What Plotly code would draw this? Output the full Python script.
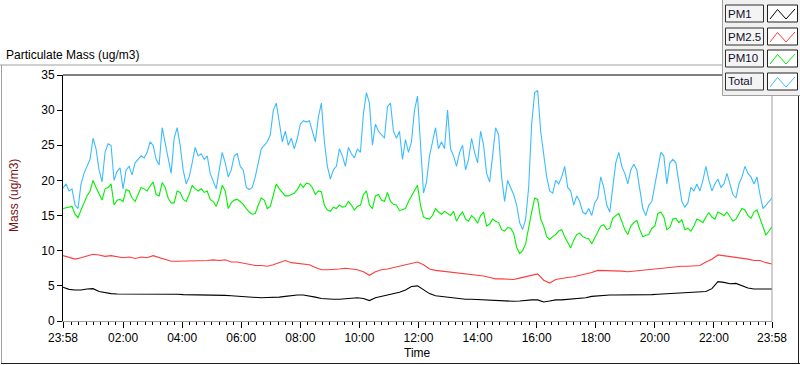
import numpy as np
import pandas as pd
import plotly.graph_objects as go

# ---------------- data ----------------
START = "2000-01-01 23:58"
END = "2000-01-02 23:58"

TOTAL = [
    18.9, 19.5, 18.5, 18.8, 16.5, 16.0, 19.5, 21.0, 22.0, 23.0,
    26.0, 24.5, 21.5, 19.8, 24.0, 25.2, 25.0, 20.0, 21.3, 21.8,
    18.8, 21.5, 22.0, 20.8, 22.5, 23.0, 23.5, 23.2, 24.0, 25.5,
    25.0, 23.0, 22.2, 27.5, 25.5, 23.0, 21.0, 26.0, 27.5, 25.0,
    21.5, 19.5, 20.5, 22.5, 24.7, 23.5, 23.8, 23.0, 23.5, 21.0,
    20.0, 18.8, 21.5, 24.0, 22.5, 20.5, 21.5, 23.5, 23.8, 22.0,
    21.5, 19.0, 18.7, 19.0, 20.5, 22.5, 24.5, 25.0, 25.5, 26.5,
    30.0, 31.0, 28.0, 25.5, 27.0, 25.0, 26.0, 24.5, 26.0, 28.0,
    28.5, 28.3,
    28.5, 27.0, 25.5, 29.0, 31.0, 25.5, 22.0, 20.2, 21.5, 22.0,
    24.5, 23.5, 22.0, 24.7, 23.8, 23.2, 24.5, 24.0, 29.5, 32.5,
    31.0, 25.0, 28.0, 27.0, 26.5, 26.0, 30.5, 31.0, 27.0, 26.0,
    27.0, 23.0, 25.8, 24.0, 25.5, 30.0, 32.0, 25.0, 18.2, 19.8,
    23.5, 25.5, 27.5, 24.5, 25.5, 24.5, 30.0, 24.5, 23.5, 22.0,
    24.0, 25.0, 21.5, 23.0, 26.0, 24.0, 22.5, 27.0, 25.0, 21.0,
    19.8, 23.5, 27.5, 26.5, 20.5, 17.0, 20.0, 19.0, 18.0, 16.5,
    14.0, 13.0, 14.5, 19.0, 28.0, 32.5, 32.8, 27.0,
    24.0, 20.5, 18.5, 18.2, 20.0, 19.5, 20.5, 22.0, 19.0, 18.5,
    16.5, 17.8, 17.0, 15.5, 15.2, 16.0, 15.0, 16.8, 17.5, 20.5,
    19.0, 16.5, 15.5, 19.0, 22.5, 24.0, 22.0, 21.0, 19.5, 21.5,
    22.3, 21.5, 18.5, 16.0, 15.0, 16.5, 17.0, 19.5, 21.5, 24.0,
    23.5, 19.5, 22.5, 23.0, 22.5, 20.0, 17.0, 16.2, 16.8, 19.0,
    18.5, 19.5, 18.5, 20.0, 22.0, 20.0, 18.5, 19.5, 20.2, 19.0,
    19.5, 21.0, 19.5, 18.0, 17.5, 19.5, 20.5, 22.0, 21.0, 20.5,
    19.5, 20.5, 18.0, 16.0, 16.5, 17.0, 17.5,
]

PM10 = [
    16.0, 16.1, 16.2, 16.3, 15.2, 14.7, 15.8, 16.8, 17.8, 18.5,
    20.0, 19.0, 18.0, 17.2, 18.8, 19.0, 19.5, 16.5, 17.2, 17.3,
    17.0, 18.7, 18.5, 17.5, 17.0, 18.0, 19.0, 18.8, 18.5, 19.2,
    19.8, 18.0, 17.8, 19.7, 19.0, 17.5, 16.8, 16.8, 18.5, 18.3,
    17.3, 17.0, 18.0, 19.3, 18.8, 18.5, 18.8, 18.3, 18.5, 17.3,
    17.0, 16.3, 17.5, 19.3, 18.5, 16.0, 16.8, 17.2, 17.3, 17.0,
    16.6, 16.0, 15.5, 15.2, 15.3, 16.5, 17.5, 17.2, 16.0, 16.3,
    18.0, 19.5, 18.8, 18.3, 17.8, 17.8, 18.0, 18.2, 18.7, 19.5,
    19.0, 19.6, 19.5, 19.0, 18.0, 18.5, 18.4, 16.5, 15.8, 15.6,
    16.2, 16.0, 16.5, 16.2, 16.3, 17.0, 16.5, 15.8, 16.3, 16.5,
    18.0, 18.5, 16.5, 16.0, 17.8, 18.0, 17.2, 17.0, 18.3, 17.0,
    16.6, 16.5, 15.7, 15.9, 16.0, 17.0, 17.8, 18.5, 19.3, 16.5,
    14.8, 14.6, 14.5, 15.0, 16.0, 15.5, 15.2, 15.6, 15.3, 15.0,
    15.6, 14.2, 15.0, 15.5, 14.5, 14.2, 15.0, 14.6, 13.9, 15.0,
    15.5, 13.5, 13.8, 14.5, 14.2, 14.0, 13.0, 12.8, 13.3, 13.2,
    12.5, 10.5, 9.6, 10.0, 11.0, 13.5, 15.5, 17.5, 17.3, 14.5,
    13.5, 12.0, 11.6, 12.0, 12.3, 12.8, 13.0, 12.0, 11.3, 10.4,
    11.5, 12.3, 12.5, 12.0, 11.8, 11.7, 11.0, 11.8, 12.5, 13.5,
    13.7, 13.0, 13.2, 14.6, 15.0, 15.3, 14.2, 13.0, 12.3, 13.5,
    14.0, 14.3, 13.0, 12.0, 12.2, 12.3, 13.2, 13.5, 15.3, 15.5,
    14.8, 13.0, 13.3, 14.5, 14.6, 14.0, 14.4, 13.0, 13.2, 12.8,
    13.5, 14.5, 14.3, 14.0, 14.8, 15.4, 14.8, 14.5, 15.5, 15.3,
    15.0, 15.5, 14.8, 14.2, 14.5, 15.3, 16.0, 15.8, 15.0, 14.6,
    15.5, 15.8, 14.5, 13.2, 12.2, 12.8, 13.4,
]

PM25 = [
    9.3, 9.1, 8.8, 9.0, 9.3, 9.5, 9.4, 9.2, 9.3, 9.2,
    9.0, 9.1, 8.9, 9.1, 9.0, 9.3, 9.0, 8.8, 8.5, 8.5,
    8.5, 8.6, 8.6, 8.6, 8.6, 8.7, 8.6, 8.7, 8.4, 8.4,
    8.2, 8.0, 7.9, 7.9, 7.8, 8.0, 8.3, 8.6, 8.3, 8.2,
    8.1, 8.0, 7.6, 7.3, 7.3, 7.3, 7.4, 7.5, 7.4, 7.3,
    7.0, 6.5, 7.0, 7.3, 7.4, 7.6, 7.9, 8.0, 8.2, 8.4,
    8.0, 7.4, 7.2, 7.1, 7.1, 6.9, 6.8, 6.8, 6.7, 6.6,
    6.4, 6.2, 6.0, 6.0, 5.9, 5.9, 6.1, 6.3, 6.4, 6.7,
    5.8, 5.4, 5.9, 6.1, 6.2, 6.3, 6.5, 6.6, 6.9, 7.2,
    7.2, 7.1, 7.1, 7.1, 7.0, 7.1, 7.1, 7.3, 7.3, 7.5,
    7.5, 7.6, 7.7, 7.8, 7.8, 7.9, 7.9, 8.4, 8.8, 9.4,
    9.3, 9.1, 9.0, 8.9, 8.8, 8.6, 8.6, 8.3, 8.1,
]

PM1 = [
    4.8, 4.5, 4.4, 4.4, 4.55, 4.6, 4.2, 4.0, 3.9, 3.85,
    3.85, 3.85, 3.85, 3.8, 3.85, 3.9, 3.85, 3.8, 3.8, 3.8,
    3.75, 3.75, 3.7, 3.7, 3.65, 3.65, 3.7, 3.65, 3.6, 3.55,
    3.4, 3.35, 3.35, 3.3, 3.35, 3.35, 3.4, 3.5, 3.65, 3.7,
    3.7, 3.6, 3.4, 3.2, 3.1, 3.1, 3.1, 3.2, 3.2, 3.3,
    3.2, 2.9, 3.3, 3.5, 3.7, 3.8, 4.1, 4.4, 4.9, 5.0,
    4.4, 3.9, 3.6, 3.5, 3.4, 3.2, 3.15, 3.1, 3.1, 3.05,
    3.0, 2.95, 2.85, 2.85, 2.8, 2.8, 2.85, 2.95, 3.0, 3.0,
    2.7, 2.85, 3.0, 3.0, 3.05, 3.1, 3.15, 3.3, 3.5, 3.6,
    3.65, 3.7, 3.7, 3.7, 3.65, 3.7, 3.7, 3.75, 3.75, 3.8,
    3.85, 3.9, 3.9, 3.9, 3.95, 4.0, 4.05, 4.2, 4.6, 5.6,
    5.5, 5.3, 5.35, 5.0, 4.7, 4.55, 4.55, 4.55, 4.55,
]

SERIES_NAMES = ["PM1", "PM2.5", "PM10", "Total"]
SERIES_COLORS = ["#000000", "#ff3c3c", "#00f000", "#3cbcff"]

TICK_LABELS = ["23:58", "02:00", "04:00", "06:00", "08:00", "10:00", "12:00",
               "14:00", "16:00", "18:00", "20:00", "22:00", "23:58"]
Y_TICKS = [0, 5, 10, 15, 20, 25, 30, 35]

CHART_TITLE = "Particulate Mass (ug/m3)"
Y_TITLE = "Mass (ug/m3)"
X_TITLE = "Time"

# ---------------- build ----------------
t0 = pd.Timestamp(START)
t1 = pd.Timestamp(END)


def times_for(vals):
    n = len(vals)
    return [t0 + (t1 - t0) * i / (n - 1) for i in range(n)]


tickvals = [t0] + [pd.Timestamp("2000-01-02 " + s) for s in TICK_LABELS[1:-1]] + [t1]

# figure / plot-area geometry (pixels)
W, H = 800, 365
PL, PR, PT, PB = 63, 772, 75, 321


def px(x):
    return (x - PL) / (PR - PL)


def py(y):
    return (PB - y) / (PB - PT)


fig = go.Figure()
for name, vals, col in zip(SERIES_NAMES, [PM1, PM25, PM10, TOTAL], SERIES_COLORS):
    fig.add_trace(go.Scatter(x=times_for(vals), y=vals, mode="lines", name=name,
                             line=dict(color=col, width=1.1), showlegend=False,
                             hoverinfo="x+y+name"))

FONT = "Liberation Sans, Arial, sans-serif"

fig.update_layout(
    width=W, height=H,
    margin=dict(l=PL, r=W - PR, t=PT, b=H - PB, pad=0, autoexpand=False),
    paper_bgcolor="white", plot_bgcolor="white",
    font=dict(family=FONT, size=12, color="#000000"),
    xaxis=dict(
        type="date", range=[t0, t1], tickmode="array", tickvals=tickvals,
        ticktext=TICK_LABELS, ticks="outside", ticklen=6, tickwidth=1,
        tickcolor="#000000", showgrid=False, zeroline=False,
        showline=True, linecolor="#a0a0a0", linewidth=1,
        tickfont=dict(family=FONT, size=12, color="#000000"),
        minor=dict(ticks="outside", ticklen=3, tickcolor="#000000",
                   dtick=15 * 60 * 1000, tick0="2000-01-02 00:00", showgrid=False),
        fixedrange=True, automargin=False,
    ),
    yaxis=dict(
        range=[0, 35], tickmode="array", tickvals=Y_TICKS,
        ticks="outside", ticklen=5, tickcolor="#000000", showgrid=False,
        zeroline=False, showline=True, linecolor="#000000", linewidth=1,
        tickfont=dict(family=FONT, size=12, color="#000000"),
        fixedrange=True, automargin=False,
    ),
)

shapes = []
# outer frame
shapes.append(dict(type="line", xref="paper", yref="paper", x0=px(0), x1=px(724), y0=py(65), y1=py(65),
                   line=dict(color="#a0a0a0", width=1)))
shapes.append(dict(type="line", xref="paper", yref="paper", x0=px(1.5), x1=px(1.5), y0=py(65), y1=py(364),
                   line=dict(color="#a0a0a0", width=1)))
shapes.append(dict(type="line", xref="paper", yref="paper", x0=px(1), x1=px(800), y0=py(363.5), y1=py(363.5),
                   line=dict(color="#202020", width=1)))
shapes.append(dict(type="line", xref="paper", yref="paper", x0=px(798.5), x1=px(798.5), y0=py(96), y1=py(364),
                   line=dict(color="#202020", width=1)))
# plot frame: top black, right gray
shapes.append(dict(type="line", xref="paper", yref="paper", x0=0, x1=1, y0=1, y1=1,
                   line=dict(color="#000000", width=1)))
shapes.append(dict(type="line", xref="paper", yref="paper", x0=1, x1=1, y0=0, y1=1,
                   line=dict(color="#a0a0a0", width=1)))
# legend panel
shapes.append(dict(type="rect", xref="paper", yref="paper", x0=px(722.5), x1=px(802), y0=py(-2), y1=py(95.5),
                   fillcolor="#f0f0f0", line=dict(color="#a0a0a0", width=1), layer="above"))
ROW_TOP = [5, 28, 50, 73]
annotations = []
for name, col, top in zip(SERIES_NAMES, SERIES_COLORS, ROW_TOP):
    shapes.append(dict(type="rect", xref="paper", yref="paper", x0=px(725.5), x1=px(763.5),
                       y0=py(top), y1=py(top + 17), fillcolor="#f4f4f4",
                       line=dict(color="#303030", width=1), layer="above"))
    shapes.append(dict(type="rect", xref="paper", yref="paper", x0=px(767.5), x1=px(797.5),
                       y0=py(top), y1=py(top + 17), fillcolor="#ffffff",
                       line=dict(color="#202020", width=1), layer="above"))
    pts = [(770, top + 14), (777.5, top + 4.5), (786, top + 14), (795, top + 4)]
    path = "M " + " L ".join(f"{px(a):.5f},{py(b):.5f}" for a, b in pts)
    shapes.append(dict(type="path", xref="paper", yref="paper", path=path,
                       line=dict(color=col, width=1), layer="above"))
    annotations.append(dict(text=name, xref="paper", yref="paper", x=px(726), y=py(top + 8.5),
                            xanchor="left", yanchor="middle", showarrow=False,
                            font=dict(family=FONT, size=11.5, color="#10102a")))

annotations.append(dict(text=CHART_TITLE, xref="paper", yref="paper", x=px(4), y=py(55),
                        xanchor="left", yanchor="middle", showarrow=False,
                        font=dict(family=FONT, size=12, color="#000000")))
annotations.append(dict(text=X_TITLE, xref="paper", yref="paper", x=px(417), y=py(353),
                        xanchor="center", yanchor="middle", showarrow=False,
                        font=dict(family=FONT, size=12, color="#000000")))
annotations.append(dict(text=Y_TITLE, xref="paper", yref="paper", x=px(14), y=py(196),
                        xanchor="center", yanchor="middle", showarrow=False, textangle=-90,
                        font=dict(family=FONT, size=12, color="#7a1414")))

fig.update_layout(shapes=shapes, annotations=annotations)

fig.write_html("out.html", config={"displayModeBar": False},
               post_script="document.body.style.margin='0';document.body.style.overflow='hidden';")
